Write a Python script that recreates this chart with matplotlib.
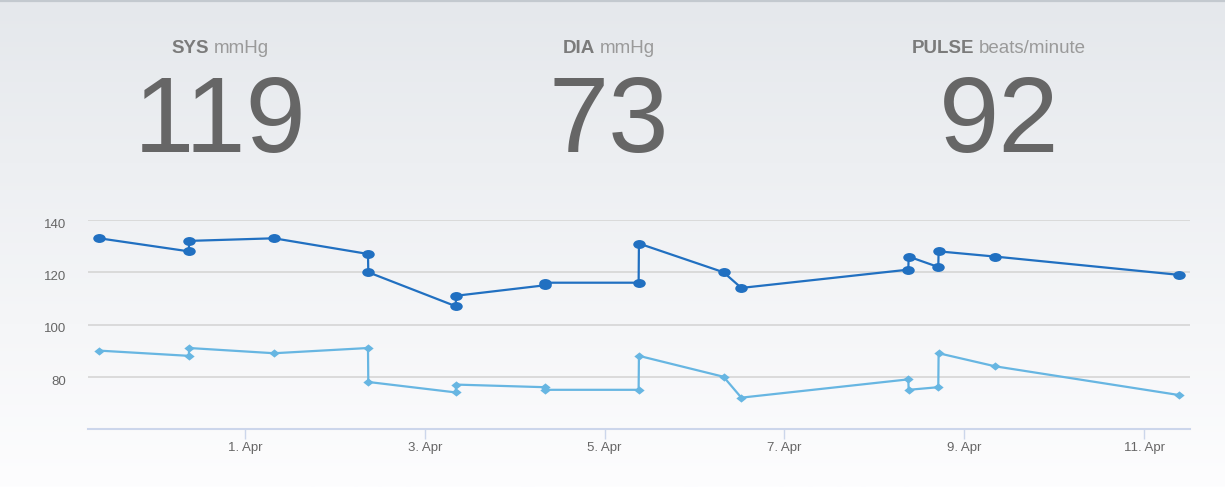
import numpy as np
import pandas as pd
import matplotlib
matplotlib.use("Agg")
import matplotlib.pyplot as plt
import matplotlib.dates as mdates
from matplotlib.path import Path
from matplotlib.transforms import Affine2D, ScaledTranslation

plt.rcParams['font.family'] = ['Liberation Sans', 'DejaVu Sans']

# ---------------- data ----------------
times = [
    "2015-03-30 09:05", "2015-03-31 09:00", "2015-03-31 09:05", "2015-04-01 07:45",
    "2015-04-02 08:50", "2015-04-02 08:55", "2015-04-03 08:15", "2015-04-03 08:20",
    "2015-04-04 08:00", "2015-04-04 08:05", "2015-04-05 09:05", "2015-04-05 09:10",
    "2015-04-06 07:45", "2015-04-06 12:30", "2015-04-08 09:05", "2015-04-08 09:10",
    "2015-04-08 17:05", "2015-04-08 17:10", "2015-04-09 08:15", "2015-04-11 09:20",
]
sys_vals = [133, 128, 132, 133, 127, 120, 107, 111, 115, 116,
            116, 131, 120, 114, 121, 126, 122, 128, 126, 119]
dia_vals = [90, 88, 91, 89, 91, 78, 74, 77, 76, 75,
            75, 88, 80, 72, 79, 75, 76, 89, 84, 73]
tick_dates = ["2015-04-01", "2015-04-03", "2015-04-05", "2015-04-07", "2015-04-09", "2015-04-11"]
y_ticks = [80, 100, 120, 140]
summary_bold = ["SYS", "DIA", "PULSE"]
summary_unit = ["mmHg", "mmHg", "beats/minute"]
summary_values = [119, 73, 92]

# ---------------- figure ----------------
W, H = 1225, 487
fig = plt.figure(figsize=(W / 100, H / 100), dpi=100)

# background gradient
bg = fig.add_axes([0, 0, 1, 1], zorder=-10)
top_c = np.array([0xe5, 0xe8, 0xec]) / 255.0
bot_c = np.array([0xfd, 0xfd, 0xfe]) / 255.0
t = np.linspace(0, 1, 256)[:, None]
grad = top_c * (1 - t) + bot_c * t
bg.imshow(grad[:, None, :], aspect='auto', extent=[0, 1, 0, 1])
bg.axhline(1 - 1.0 / H, color='#c3c9cf', lw=1.6)
bg.set_xlim(0, 1)
bg.set_ylim(0, 1)
bg.axis('off')

# main chart axes
left_px, right_px, top_px, bottom_px = 88, 1190, 220, 429
ax = fig.add_axes([left_px / W, 1 - bottom_px / H, (right_px - left_px) / W, (bottom_px - top_px) / H])
ax.set_facecolor('none')

dt = pd.to_datetime(times)
sys_color = '#2170c1'
dia_color = '#67b6e2'

ellipse = Affine2D().scale(1.4, 1.0).transform_path(Path.unit_circle())
diamond = Path([(0, 1), (1.25, 0), (0, -1), (-1.25, 0), (0, 1)], closed=True)

ax.plot(dt, sys_vals, color=sys_color, lw=1.6, marker=ellipse, ms=9.0,
        mfc=sys_color, mec=sys_color, mew=0, zorder=3, clip_on=False)
ax.plot(dt, dia_vals, color=dia_color, lw=1.6, marker=diamond, ms=7.4,
        mfc=dia_color, mec=dia_color, mew=0, zorder=3, clip_on=False)

# axes ranges (derived from tick spacing of the reference)
apr1 = pd.Timestamp("2015-04-01")
px_per_day = 89.9
x0 = apr1 + pd.Timedelta(days=(left_px - 245) / px_per_day)
x1 = apr1 + pd.Timedelta(days=(right_px - 245) / px_per_day)
ax.set_xlim(x0, x1)
ax.set_ylim(60, 140)

ax.set_yticks(y_ticks)
ax.yaxis.grid(True, color='#d8d8d8', lw=1.3)
ax.set_axisbelow(True)
ax.tick_params(axis='y', length=0, pad=16, labelsize=9.5, labelcolor='#666666')
shift = ScaledTranslation(0, -2.5 / 72, fig.dpi_scale_trans)
for lab in ax.get_yticklabels():
    lab.set_transform(lab.get_transform() + shift)

ax.set_xticks(pd.to_datetime(tick_dates))
ax.xaxis.set_major_formatter(mdates.DateFormatter('%-d. %b'))
ax.tick_params(axis='x', length=7, width=1, color='#ccd6eb', pad=2,
               labelsize=9.5, labelcolor='#666666')

for s in ['left', 'right', 'top']:
    ax.spines[s].set_visible(False)
ax.spines['bottom'].set_color('#ccd6eb')
ax.spines['bottom'].set_linewidth(1.5)

# ---------------- header ----------------
centers_px = [220, 609, 999]
label_base = 1 - 53 / H
value_base = 1 - 152 / H
renderer = fig.canvas.get_renderer()
gap = 5
for b, u, v, cx in zip(summary_bold, summary_unit, summary_values, centers_px):
    t1 = fig.text(0, label_base, b, fontsize=13.5, fontweight='bold', color='#7b7b7b', va='baseline')
    t2 = fig.text(0, label_base, u, fontsize=13.5, color='#9a9a9a', va='baseline')
    w1 = t1.get_window_extent(renderer).width
    w2 = t2.get_window_extent(renderer).width
    start = cx - (w1 + gap + w2) / 2
    t1.set_x(start / W)
    t2.set_x((start + w1 + gap) / W)
    fig.text(cx / W, value_base, str(v), fontsize=78, color='#666666', ha='center', va='baseline')

fig.savefig('out.png', dpi=100)
